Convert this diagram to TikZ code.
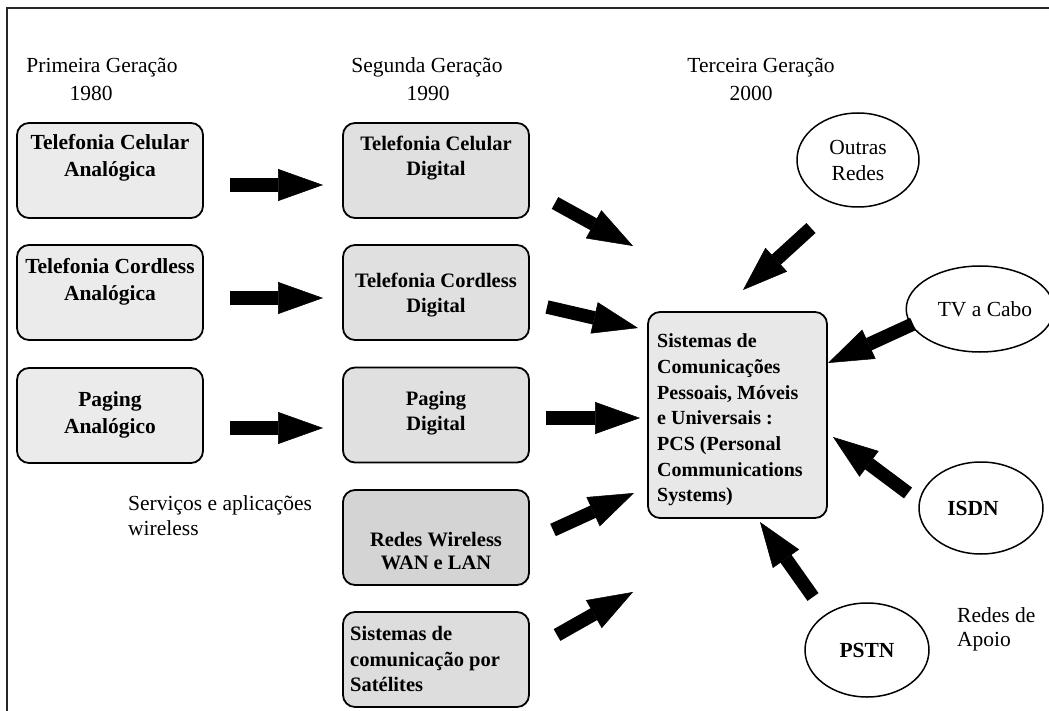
\documentclass[tikz,border=0pt]{standalone}
\usepackage{fontspec}
\setmainfont{Liberation Serif}
\usetikzlibrary{arrows.meta,shapes.geometric}
\begin{document}
\begin{tikzpicture}[x=1pt,y=-1pt,
  gbox/.style={draw=black, line width=1.8pt, rounded corners=12pt,
    minimum width=186pt, minimum height=95pt, inner sep=0pt},
  oldbox/.style={gbox, fill=gray!16},
  newbox/.style={gbox, fill=gray!24},
  boldA/.style={font=\bfseries\fontsize{21.5}{27}\selectfont, align=center, inner sep=0pt},
  boldB/.style={font=\bfseries\fontsize{20.5}{25.5}\selectfont, align=center, inner sep=0pt},
  plain/.style={font=\fontsize{21.5}{26}\selectfont, inner sep=0pt},
  net/.style={ellipse, draw=black, line width=1.5pt, fill=white, inner sep=0pt,
    minimum width=124pt, minimum height=94pt, align=center,
    font=\fontsize{21.5}{26}\selectfont},
  blockarrow/.style={draw=black, line width=13.5pt,
    -{Triangle[length=45pt,width=32pt,line width=0.5pt]}}
]
\useasboundingbox (0,0) rectangle (1049,711);
\clip (0,0) rectangle (1049,711);

% frame
\draw[line width=1.8pt, black!85] (1049,8) -- (7,8) -- (7,711);

% column headings
\node[plain, anchor=base] (h1a) at (102,73) {Primeira Geração};
\node[plain, anchor=base] (h1b) at (91,101) {1980};
\node[plain, anchor=base] (h2a) at (427,73) {Segunda Geração};
\node[plain, anchor=base] (h2b) at (428,101) {1990};
\node[plain, anchor=base] (h3a) at (761,73) {Terceira Geração};
\node[plain, anchor=base] (h3b) at (751,101) {2000};

% first generation
\node[oldbox] (a1) at (110,170.5) {};
\node[boldA] (a1t) at (110,158) {Telefonia Celular\\Analógica};
\node[oldbox] (a2) at (110,292.5) {};
\node[boldA] (a2t) at (110,282) {Telefonia Cordless\\Analógica};
\node[oldbox] (a3) at (110,415.5) {};
\node[boldA] (a3t) at (110,415) {Paging\\Analógico};

% second generation
\node[newbox] (b1) at (436,170.5) {};
\node[boldB] (b1t) at (436,158) {Telefonia Celular\\Digital};
\node[newbox] (b2) at (436,292.5) {};
\node[boldB] (b2t) at (436,295) {Telefonia Cordless\\Digital};
\node[newbox] (b3) at (436,415) {};
\node[boldB] (b3t) at (436,413) {Paging\\Digital};
\node[gbox, fill=gray!34] (b4) at (436,537.5) {};
\node[boldB, font=\bfseries\fontsize{20.5}{22.5}\selectfont] (b4t) at (436,551) {Redes Wireless\\WAN e LAN};
\node[gbox, fill=gray!27] (b5) at (436,659.5) {};
\node[boldB, align=left, anchor=west] (b5t) at (350,659) {Sistemas de\\comunicação por\\Satélites};

% third generation
\node[gbox, fill=gray!18, minimum width=179pt, minimum height=206pt] (pcs) at (737.5,415) {};
\node[boldB, font=\bfseries\fontsize{20}{25.7}\selectfont, align=left, anchor=west] (pcst) at (657,420)
  {Sistemas de\\Comunicações\\Pessoais, Móveis\\e Universais :\\PCS (Personal\\Communications\\Systems)};

% supporting networks
\node[net, minimum width=122pt] (outras) at (858,160) {Outras\\Redes};
\node[net, minimum width=126pt, minimum height=86pt] (tv) at (980,309) {\hspace{10pt}TV a Cabo};
\node[net, minimum height=92pt, font=\bfseries\fontsize{21.5}{26}\selectfont] (isdn) at (981,508) {ISDN\hspace{16pt}};
\node[net, font=\bfseries\fontsize{21.5}{26}\selectfont] (pstn) at (867,650) {PSTN};

% free labels (base anchor sits on the last line)
\node[plain, align=left, anchor=base west, font=\fontsize{21.5}{25}\selectfont] (servicos) at (128,535) {Serviços e aplicações\\wireless};
\node[plain, align=left, anchor=base west, font=\fontsize{21.5}{24}\selectfont] (apoio) at (957,646) {Redes de\\Apoio};

% arrow end points
\coordinate (p1s) at (230,185);  \coordinate (p1e) at (323,185);
\coordinate (p2s) at (230,298);  \coordinate (p2e) at (323,298);
\coordinate (p3s) at (230,428);  \coordinate (p3e) at (323,428);
\coordinate (q1s) at (555,203);  \coordinate (q1e) at (633,246);
\coordinate (q2s) at (547,307);  \coordinate (q2e) at (638,328);
\coordinate (q3s) at (546,418);  \coordinate (q3e) at (640,418);
\coordinate (q4s) at (553,530);  \coordinate (q4e) at (634,493);
\coordinate (q5s) at (557,635);  \coordinate (q5e) at (633,592);
\coordinate (r1s) at (811,228);  \coordinate (r1e) at (743,290);
\coordinate (r2s) at (913,324);  \coordinate (r2e) at (828,363);
\coordinate (r3s) at (908,493);  \coordinate (r3e) at (833,437);
\coordinate (r4s) at (813,597);  \coordinate (r4e) at (760,522);

% evolution arrows
\draw[blockarrow] (p1s) -- (p1e);
\draw[blockarrow] (p2s) -- (p2e);
\draw[blockarrow] (p3s) -- (p3e);
\draw[blockarrow] (q1s) -- (q1e);
\draw[blockarrow] (q2s) -- (q2e);
\draw[blockarrow] (q3s) -- (q3e);
\draw[blockarrow] (q4s) -- (q4e);
\draw[blockarrow] (q5s) -- (q5e);
\draw[blockarrow] (r1s) -- (r1e);
\draw[blockarrow] (r2s) -- (r2e);
\draw[blockarrow] (r3s) -- (r3e);
\draw[blockarrow] (r4s) -- (r4e);
\end{tikzpicture}
\end{document}
